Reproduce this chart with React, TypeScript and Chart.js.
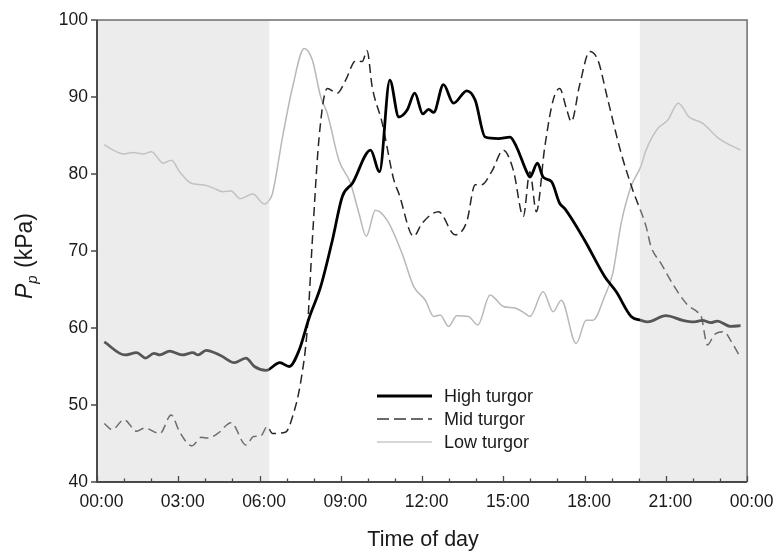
import React, { useEffect, useRef } from "react";
import { Chart, registerables } from "chart.js";
Chart.register(...registerables);

// ---- data (hours of day, Pp in kPa) ----
const xTickHours = [0, 3, 6, 9, 12, 15, 18, 21, 24];
const yTickValues = [40, 50, 60, 70, 80, 90, 100];
const seriesLabels = ["High turgor", "Mid turgor", "Low turgor"];
const shadeRanges = [
  [0, 6.36],
  [20.04, 24],
];

const highHours = [0.27, 1.03, 1.46, 1.79, 2.1, 2.32, 2.68, 3.14, 3.54, 3.73, 4.03, 4.58, 5.07, 5.5, 5.81, 6.24, 6.75, 7.1, 7.46, 7.83, 8.26, 8.69, 9.06, 9.43, 10.1, 10.43, 10.81, 11.14, 11.45, 11.73, 12.03, 12.24, 12.43, 12.79, 13.16, 13.65, 13.96, 14.33, 14.82, 15.25, 15.49, 15.86, 15.98, 16.26, 16.47, 16.78, 17.08, 17.27, 18.0, 18.74, 19.17, 19.72, 20.08, 20.33, 21.0, 21.62, 22.05, 22.35, 22.66, 22.9, 23.39, 23.76];
const highValues = [58.2, 56.5, 56.8, 56.1, 56.7, 56.5, 57.0, 56.5, 56.8, 56.5, 57.1, 56.4, 55.5, 56.1, 55.0, 54.5, 55.5, 55.0, 57.1, 61.3, 65.4, 71.4, 77.1, 78.8, 83.1, 80.3, 92.2, 87.4, 88.3, 90.5, 87.8, 88.4, 88.0, 91.6, 89.2, 90.8, 89.6, 84.8, 84.6, 84.8, 83.5, 80.3, 79.6, 81.4, 79.6, 79.0, 76.2, 75.5, 71.4, 66.7, 64.7, 61.5, 61.0, 60.8, 61.6, 61.0, 60.8, 61.0, 60.7, 60.9, 60.2, 60.3];

const midHours = [0.27, 0.56, 1.0, 1.46, 1.76, 2.32, 2.74, 3.05, 3.5, 3.85, 4.09, 4.46, 4.95, 5.5, 5.78, 6.05, 6.28, 6.48, 6.97, 7.22, 7.53, 7.77, 7.95, 8.2, 8.5, 8.87, 9.18, 9.55, 9.79, 9.97, 10.16, 10.53, 10.96, 11.14, 11.69, 12.0, 12.61, 13.22, 13.65, 13.96, 14.2, 14.57, 15.0, 15.37, 15.74, 15.98, 16.22, 16.53, 16.84, 17.08, 17.33, 17.51, 17.82, 18.19, 18.49, 18.86, 19.35, 19.78, 20.27, 20.45, 20.82, 21.31, 21.8, 22.16, 22.3, 22.54, 22.78, 23.15, 23.39, 23.7];
const midValues = [47.6, 46.8, 48.1, 46.6, 47.0, 46.3, 48.7, 46.5, 44.7, 45.8, 45.7, 46.3, 47.7, 44.8, 45.9, 46.0, 47.2, 46.3, 46.5, 48.5, 53.2, 60.2, 71.4, 84.8, 91.1, 90.5, 92.2, 94.7, 94.6, 96.0, 91.3, 86.6, 79.2, 77.5, 71.9, 73.6, 75.1, 72.1, 73.8, 78.6, 78.6, 80.3, 83.1, 80.5, 74.5, 80.3, 75.1, 83.5, 89.6, 91.1, 88.5, 86.8, 91.6, 95.9, 94.8, 89.6, 82.7, 77.9, 73.2, 70.6, 68.4, 65.4, 63.0, 62.1, 61.6, 57.8, 59.1, 59.5, 58.4, 56.5];

const lowHours = [0.27, 0.6, 0.97, 1.34, 1.7, 2.01, 2.44, 2.75, 3.05, 3.48, 3.91, 4.28, 4.64, 4.95, 5.28, 5.75, 6.18, 6.36, 6.48, 6.85, 7.22, 7.65, 7.95, 8.26, 8.5, 8.93, 9.36, 9.67, 9.94, 10.28, 10.71, 11.26, 11.69, 12.12, 12.43, 12.67, 12.98, 13.28, 13.71, 14.06, 14.51, 15.0, 15.43, 15.8, 15.98, 16.47, 16.84, 17.14, 17.69, 18.06, 18.31, 18.74, 19.04, 19.35, 19.72, 20.08, 20.27, 20.7, 21.07, 21.46, 21.86, 22.35, 22.96, 23.76];
const lowValues = [83.8, 83.1, 82.6, 82.8, 82.6, 82.9, 81.4, 81.8, 80.3, 78.8, 78.6, 78.2, 77.7, 77.8, 76.8, 77.4, 76.1, 76.6, 77.5, 84.8, 91.3, 96.3, 94.8, 90.0, 87.9, 81.8, 78.8, 74.9, 71.9, 75.3, 74.0, 69.7, 65.4, 63.6, 61.5, 61.7, 60.2, 61.6, 61.5, 60.4, 64.3, 62.8, 62.6, 61.9, 61.5, 64.7, 62.1, 63.6, 58.0, 61.0, 61.0, 64.1, 67.1, 73.6, 78.4, 81.0, 83.1, 85.9, 87.0, 89.2, 87.4, 86.6, 84.6, 83.1];

const FONT = "'Liberation Sans', Arial, Helvetica, sans-serif";
const TEXT = "#1a1a1a";

const toPoints = (hs: number[], vs: number[]) => hs.map((h, i) => ({ x: h, y: vs[i] }));
const fmtHour = (v: number) => String(Math.round(v) % 24).padStart(2, "0") + ":00";

const legendStyles = [
  { color: "#000000", width: 3, dash: [] as number[] },
  { color: "#6a6a6a", width: 2, dash: [12, 5] },
  { color: "#c8c8c8", width: 1.6, dash: [] as number[] },
];

const decorPlugin = {
  id: "decor",
  afterDatasetsDraw(chart: any) {
    const { ctx, chartArea: a, scales } = chart;
    const x = scales.x, y = scales.y;
    ctx.save();
    ctx.fillStyle = "rgba(208,208,208,0.41)";
    for (const [s, e] of shadeRanges) {
      const x0 = x.getPixelForValue(s);
      const x1 = x.getPixelForValue(e);
      ctx.fillRect(x0, a.top, x1 - x0, a.bottom - a.top);
    }
    ctx.strokeStyle = "#6e6e6e";
    ctx.lineWidth = 1.5;
    ctx.beginPath();
    ctx.moveTo(a.left, a.top);
    ctx.lineTo(a.right, a.top);
    ctx.lineTo(a.right, a.bottom);
    ctx.stroke();
    ctx.strokeStyle = "#4a4a4a";
    ctx.lineWidth = 2;
    ctx.beginPath();
    ctx.moveTo(a.left, a.top);
    ctx.lineTo(a.left, a.bottom);
    ctx.lineTo(a.right, a.bottom);
    ctx.stroke();
    ctx.lineWidth = 1.3;
    ctx.beginPath();
    for (let h = 0; h <= 24; h++) {
      const px = Math.round(x.getPixelForValue(h)) + 0.5;
      const len = h % 3 === 0 ? 6 : 3.5;
      ctx.moveTo(px, a.bottom);
      ctx.lineTo(px, a.bottom - len);
    }
    ctx.stroke();
    ctx.beginPath();
    for (const v of yTickValues) {
      const py = y.getPixelForValue(v);
      ctx.moveTo(a.left - 6, py);
      ctx.lineTo(a.left, py);
    }
    ctx.stroke();
    ctx.restore();
  },
  afterDraw(chart: any) {
    const { ctx, chartArea: a } = chart;
    ctx.save();
    const rows = [396, 419, 442];
    chart.data.datasets.forEach((ds: any, i: number) => {
      const st = legendStyles[i];
      ctx.strokeStyle = st.color;
      ctx.lineWidth = st.width;
      ctx.setLineDash(st.dash);
      ctx.beginPath();
      ctx.moveTo(377, rows[i]);
      ctx.lineTo(432, rows[i]);
      ctx.stroke();
      ctx.setLineDash([]);
      ctx.fillStyle = TEXT;
      ctx.font = `18px ${FONT}`;
      ctx.textAlign = "left";
      ctx.textBaseline = "middle";
      ctx.fillText(ds.label, 444, rows[i] + 1);
    });
    ctx.fillStyle = TEXT;
    ctx.font = `21.5px ${FONT}`;
    ctx.textAlign = "center";
    ctx.textBaseline = "alphabetic";
    ctx.fillText("Time of day", (a.left + a.right) / 2 + 1, 546);
    ctx.translate(32, (a.top + a.bottom) / 2 + 5);
    ctx.rotate(-Math.PI / 2);
    ctx.textAlign = "left";
    const fMain = `italic 23px ${FONT}`;
    const fSub = `italic 15px ${FONT}`;
    const fRest = `23px ${FONT}`;
    ctx.font = fMain;
    const wP = ctx.measureText("P").width;
    ctx.font = fSub;
    const wSub = ctx.measureText("p").width;
    ctx.font = fRest;
    const wRest = ctx.measureText(" (kPa)").width;
    const total = wP + wSub + 1 + wRest;
    let cx = -total / 2;
    ctx.font = fMain;
    ctx.fillText("P", cx, 0);
    cx += wP;
    ctx.font = fSub;
    ctx.fillText("p", cx, 5);
    cx += wSub + 1;
    ctx.font = fRest;
    ctx.fillText(" (kPa)", cx, 0);
    ctx.restore();
  },
};

export default function App() {
  const ref = useRef<HTMLCanvasElement | null>(null);
  useEffect(() => {
    if (!ref.current) return;
    const chart = new Chart(ref.current, {
      type: "line",
      data: {
        datasets: [
          {
            label: seriesLabels[0],
            data: toPoints(highHours, highValues),
            borderColor: "#000000",
            borderWidth: 2.8,
            pointRadius: 0,
            cubicInterpolationMode: "monotone",
            fill: false,
          },
          {
            label: seriesLabels[1],
            data: toPoints(midHours, midValues),
            borderColor: "#262626",
            borderWidth: 1.5,
            borderDash: [9, 5],
            pointRadius: 0,
            cubicInterpolationMode: "monotone",
            fill: false,
          },
          {
            label: seriesLabels[2],
            data: toPoints(lowHours, lowValues),
            borderColor: "#b8b8b8",
            borderWidth: 1.5,
            pointRadius: 0,
            cubicInterpolationMode: "monotone",
            fill: false,
          },
        ],
      },
      options: {
        responsive: false,
        animation: false,
        events: [],
        layout: { padding: { top: 20, right: 29, left: 0, bottom: 0 } },
        plugins: { legend: { display: false }, tooltip: { enabled: false }, title: { display: false } },
        scales: {
          x: {
            type: "linear",
            min: 0,
            max: 24,
            afterFit: (s: any) => { s.height = 69; },
            afterBuildTicks: (s: any) => { s.ticks = xTickHours.map((v) => ({ value: v })); },
            grid: { display: false, drawTicks: false },
            border: { display: false },
            ticks: {
              padding: 10,
              labelOffset: 4.5,
              maxRotation: 0,
              autoSkip: false,
              color: TEXT,
              font: { family: FONT, size: 17.5 },
              callback: (v: any) => fmtHour(Number(v)),
            },
          },
          y: {
            type: "linear",
            min: 40,
            max: 100,
            afterFit: (s: any) => { s.width = 97; },
            afterBuildTicks: (s: any) => { s.ticks = yTickValues.map((v) => ({ value: v })); },
            grid: { display: false, drawTicks: false },
            border: { display: false },
            ticks: {
              padding: 9,
              color: TEXT,
              font: { family: FONT, size: 17.5 },
              callback: (v: any) => String(v),
            },
          },
        },
      },
      plugins: [decorPlugin],
    });
    return () => chart.destroy();
  }, []);
  return (
    <div style={{ position: "absolute", left: 0, top: 0, width: 779, height: 551, background: "#fff" }}>
      <canvas ref={ref} width={779} height={551} style={{ display: "block" }} />
    </div>
  );
}
